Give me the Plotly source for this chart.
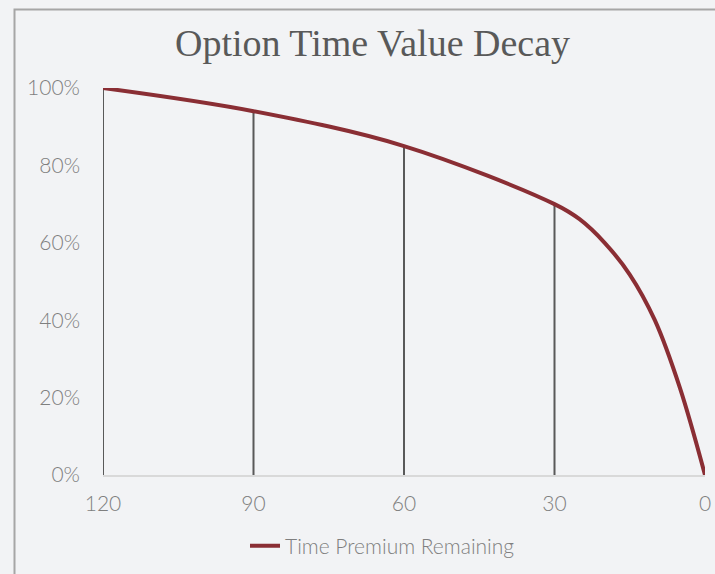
import plotly.graph_objects as go

# Data
days = [120, 90, 60, 30, 25, 20, 15, 10, 5, 0]
premium = [1.00, 0.94, 0.85, 0.70, 0.661, 0.60, 0.518, 0.40, 0.225, 0.0]
drop_days = [120, 90, 60, 30]
x_ticks = [120, 90, 60, 30, 0]
x_tick_labels = ["120", "90", "60", "30", "0"]
y_ticks = [0, 0.2, 0.4, 0.6, 0.8, 1.0]
y_tick_labels = ["0%", "20%", "40%", "60%", "80%", "100%"]

series_name = "Time Premium Remaining"
title_text = "Option Time Value Decay"

BG = "#f2f3f5"
CURVE = "#8a2e34"
DROP = "#595959"
TXT = "#7f7f7f"

# drop lines built from the data
val_at = dict(zip(days, premium))
dx, dy = [], []
for d in drop_days:
    dx += [d, d, None]
    dy += [0, val_at[d], None]

fig = go.Figure()
fig.add_trace(go.Scatter(
    x=dx, y=dy, mode="lines", showlegend=False, hoverinfo="skip",
    line=dict(color=DROP, width=2), cliponaxis=False,
))
fig.add_trace(go.Scatter(
    x=days, y=premium, mode="lines", name=series_name,
    line=dict(color=CURVE, width=4, shape="spline", smoothing=1.0),
    cliponaxis=False,
))

W, H = 715, 574
L, R, T, B = 103, 10, 88, 574 - 475
pw, ph = W - L - R, H - T - B

def px_to_paper_x(px):
    return (px - L) / pw

def px_to_paper_y(py):
    return (H - B - py) / ph

fig.update_layout(
    width=W, height=H,
    margin=dict(l=L, r=R, t=T, b=B, autoexpand=False),
    paper_bgcolor=BG, plot_bgcolor=BG,
    title=dict(
        text=title_text,
        font=dict(family="Liberation Serif", size=38, color="#595959"),
        x=372.5 / W, xanchor="center", xref="container",
        y=1 - 43 / H, yanchor="middle", yref="container",
    ),
    xaxis=dict(
        range=[120, 0], tickvals=x_ticks, ticktext=x_tick_labels,
        showgrid=False, zeroline=False, showline=True,
        linecolor="#d9d9d9", linewidth=1.5, ticks="",
        tickfont=dict(family="Lato", size=21, color=TXT, weight=300),
        ticklabelstandoff=9,
    ),
    yaxis=dict(
        range=[0, 1], tickvals=y_ticks, ticktext=y_tick_labels,
        showgrid=False, zeroline=False, showline=False, ticks="",
        tickfont=dict(family="Lato", size=21, color=TXT, weight=300),
        ticklabelstandoff=22,
    ),
    legend=dict(
        orientation="h", x=px_to_paper_x(245), xanchor="left",
        y=px_to_paper_y(546), yanchor="middle",
        font=dict(family="Lato", size=21, color=TXT, weight=300),
        bgcolor="rgba(0,0,0,0)",
    ),
    shapes=[dict(
        type="rect", xref="paper", yref="paper",
        x0=px_to_paper_x(14.5), x1=px_to_paper_x(W + 20),
        y0=px_to_paper_y(H + 20), y1=px_to_paper_y(9.5),
        line=dict(color="#a6a6a6", width=2), fillcolor="rgba(0,0,0,0)",
        layer="below",
    )],
)

fig.write_html(
    "out.html",
    config={"displayModeBar": False},
    post_script="document.body.style.margin='0';"
                "document.body.style.overflow='hidden';"
                "document.body.style.background='" + BG + "';",
)
